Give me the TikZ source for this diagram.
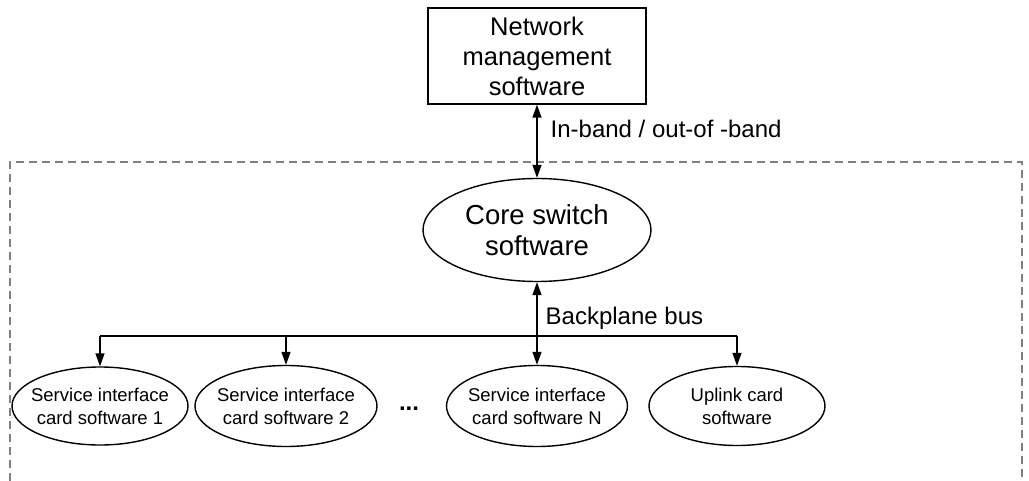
\documentclass[tikz,border=0pt]{standalone}
\usepackage{fontspec}
\setmainfont{Liberation Sans}
\usetikzlibrary{shapes.geometric,arrows.meta}
\begin{document}
\begin{tikzpicture}[x=1pt,y=-1pt,
  line width=1.4pt,
  tip/.tip={Triangle[length=13pt,width=9pt]},
  sw/.style={ellipse,draw,inner xsep=-12pt,inner ysep=2pt,align=center},
  cardtxt/.style={font=\fontsize{18.5}{23}\selectfont},
  frame/.style={draw=black!50,line width=1.1pt,dash pattern=on 8pt off 5pt},
  lbl/.style={font=\fontsize{24}{30}\selectfont,anchor=base west,inner sep=0pt}
]
\useasboundingbox (0,0) rectangle (1029,481);
\draw[frame] (10,481) -- (10,162) -- (1022,162) -- (1022,481);

\node[draw,rectangle,minimum width=218pt,minimum height=96pt,inner sep=0pt,align=center,
  font=\fontsize{25.5}{30}\selectfont] (nms) at (537,56) {Network\\management\\software};
\node[sw,minimum width=228pt,minimum height=103pt,font=\fontsize{27.5}{31}\selectfont] (core) at (537,230) {Core switch\\software};

\node[sw,cardtxt,minimum width=176pt,minimum height=78pt] (c1) at (100,406) {Service interface\\card software 1};
\node[sw,cardtxt,minimum width=182pt,minimum height=81pt] (c2) at (286,406) {Service interface\\card software 2};
\node[font=\fontsize{24}{30}\selectfont\bfseries,inner sep=0pt,anchor=base] (dots) at (409,410) {...};
\node[sw,cardtxt,minimum width=181pt,minimum height=81pt] (cn) at (537,406) {Service interface\\card software N};
\node[sw,cardtxt,minimum width=176pt,minimum height=79pt] (up) at (737,406) {Uplink card\\software};

\coordinate (busL) at (100,336);
\coordinate (busR) at (737,336);

\draw[{tip}-{tip}] (nms.south) -- (core.north);
\draw[{tip}-{tip}] (core.south) -- (cn.north);
\draw (busL) -- (busR);
\draw[-{tip}] (busL) -- (c1.north);
\draw[-{tip}] (c2.north |- busL) -- (c2.north);
\draw[-{tip}] (busR) -- (up.north);

\node[lbl] (inband) at (550,138) {In-band / out-of -band};
\node[lbl] (bpb) at (545,325) {Backplane bus};
\end{tikzpicture}
\end{document}
